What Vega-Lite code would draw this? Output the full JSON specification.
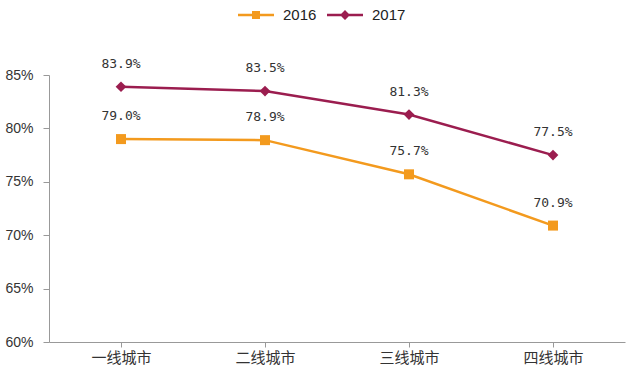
{
  "$schema": "https://vega.github.io/schema/vega-lite/v6.json",
  "width": 576,
  "height": 267,
  "autosize": {"type": "none"},
  "padding": {"left": 49, "top": 75, "right": 15, "bottom": 38},
  "background": "white",
  "config": {"view": {"stroke": null}, "font": "Liberation Sans"},
  "data": {
    "values": [
      {"city": "一线城市", "year": "2016", "value": 0.790},
      {"city": "二线城市", "year": "2016", "value": 0.789},
      {"city": "三线城市", "year": "2016", "value": 0.757},
      {"city": "四线城市", "year": "2016", "value": 0.709},
      {"city": "一线城市", "year": "2017", "value": 0.839},
      {"city": "二线城市", "year": "2017", "value": 0.835},
      {"city": "三线城市", "year": "2017", "value": 0.813},
      {"city": "四线城市", "year": "2017", "value": 0.775}
    ]
  },
  "encoding": {
    "x": {
      "field": "city", "type": "nominal", "sort": null,
      "scale": {"paddingInner": 0, "paddingOuter": 0},
      "axis": {
        "title": null, "labelAngle": 0, "bandPosition": 0,
        "domainColor": "#999999", "tickColor": "#999999", "tickSize": 5,
        "labelFont": "Noto Sans CJK SC", "labelFontSize": 15, "labelColor": "#333333",
        "labelPadding": 3, "labelAlign": "center"
      }
    },
    "y": {
      "field": "value", "type": "quantitative",
      "scale": {"domain": [0.6, 0.85], "nice": false, "zero": false},
      "axis": {
        "title": null, "format": ".0%", "values": [0.6, 0.65, 0.7, 0.75, 0.8, 0.85],
        "grid": false, "domainColor": "#999999", "tickColor": "#999999", "tickSize": 6,
        "labelFontSize": 14, "labelColor": "#333333", "labelPadding": 10
      }
    }
  },
  "layer": [
    {
      "transform": [{"filter": "datum.year === '2016'"}],
      "mark": {"type": "line", "strokeWidth": 2.5, "color": "#F39A1E"}
    },
    {
      "transform": [{"filter": "datum.year === '2017'"}],
      "mark": {"type": "line", "strokeWidth": 2.5, "color": "#9B1D4F"}
    },
    {
      "transform": [{"filter": "datum.year === '2016'"}],
      "mark": {"type": "point", "shape": "square", "filled": true, "size": 100, "opacity": 1, "color": "#F39A1E"}
    },
    {
      "transform": [{"filter": "datum.year === '2017'"}],
      "mark": {"type": "point", "shape": "diamond", "filled": true, "size": 115, "opacity": 1, "color": "#9B1D4F"}
    },
    {
      "mark": {"type": "text", "dy": -23, "fontSize": 13, "font": "DejaVu Sans Mono", "color": "#333333"},
      "encoding": {
        "text": {"field": "value", "type": "quantitative", "format": ".1%"}
      }
    },
    {
      "mark": {"type": "point", "filled": true, "opacity": 0},
      "encoding": {
        "color": {
          "field": "year", "type": "nominal",
          "scale": {"domain": ["2016", "2017"], "range": ["#F39A1E", "#9B1D4F"]},
          "legend": {
            "title": null, "orient": "none", "direction": "horizontal",
            "legendX": 186, "legendY": -81,
            "symbolSize": 1600, "symbolOpacity": 1,
            "labelFontSize": 15, "labelColor": "#222222", "labelOffset": 6,
            "columnPadding": 7, "padding": 0
          }
        },
        "shape": {
          "field": "year", "type": "nominal",
          "scale": {"domain": ["2016", "2017"], "range": [
            "M-0.9,-0.06H0.9V0.06H-0.9Z M-0.2,-0.2H0.2V0.2H-0.2Z",
            "M-0.9,-0.06H0.9V0.06H-0.9Z M0,-0.25L0.25,0L0,0.25L-0.25,0Z"
          ]},
          "legend": {
            "title": null, "orient": "none", "direction": "horizontal",
            "legendX": 186, "legendY": -81,
            "symbolSize": 1600, "symbolOpacity": 1,
            "labelFontSize": 15, "labelColor": "#222222", "labelOffset": 6,
            "columnPadding": 7, "padding": 0
          }
        }
      }
    }
  ]
}
